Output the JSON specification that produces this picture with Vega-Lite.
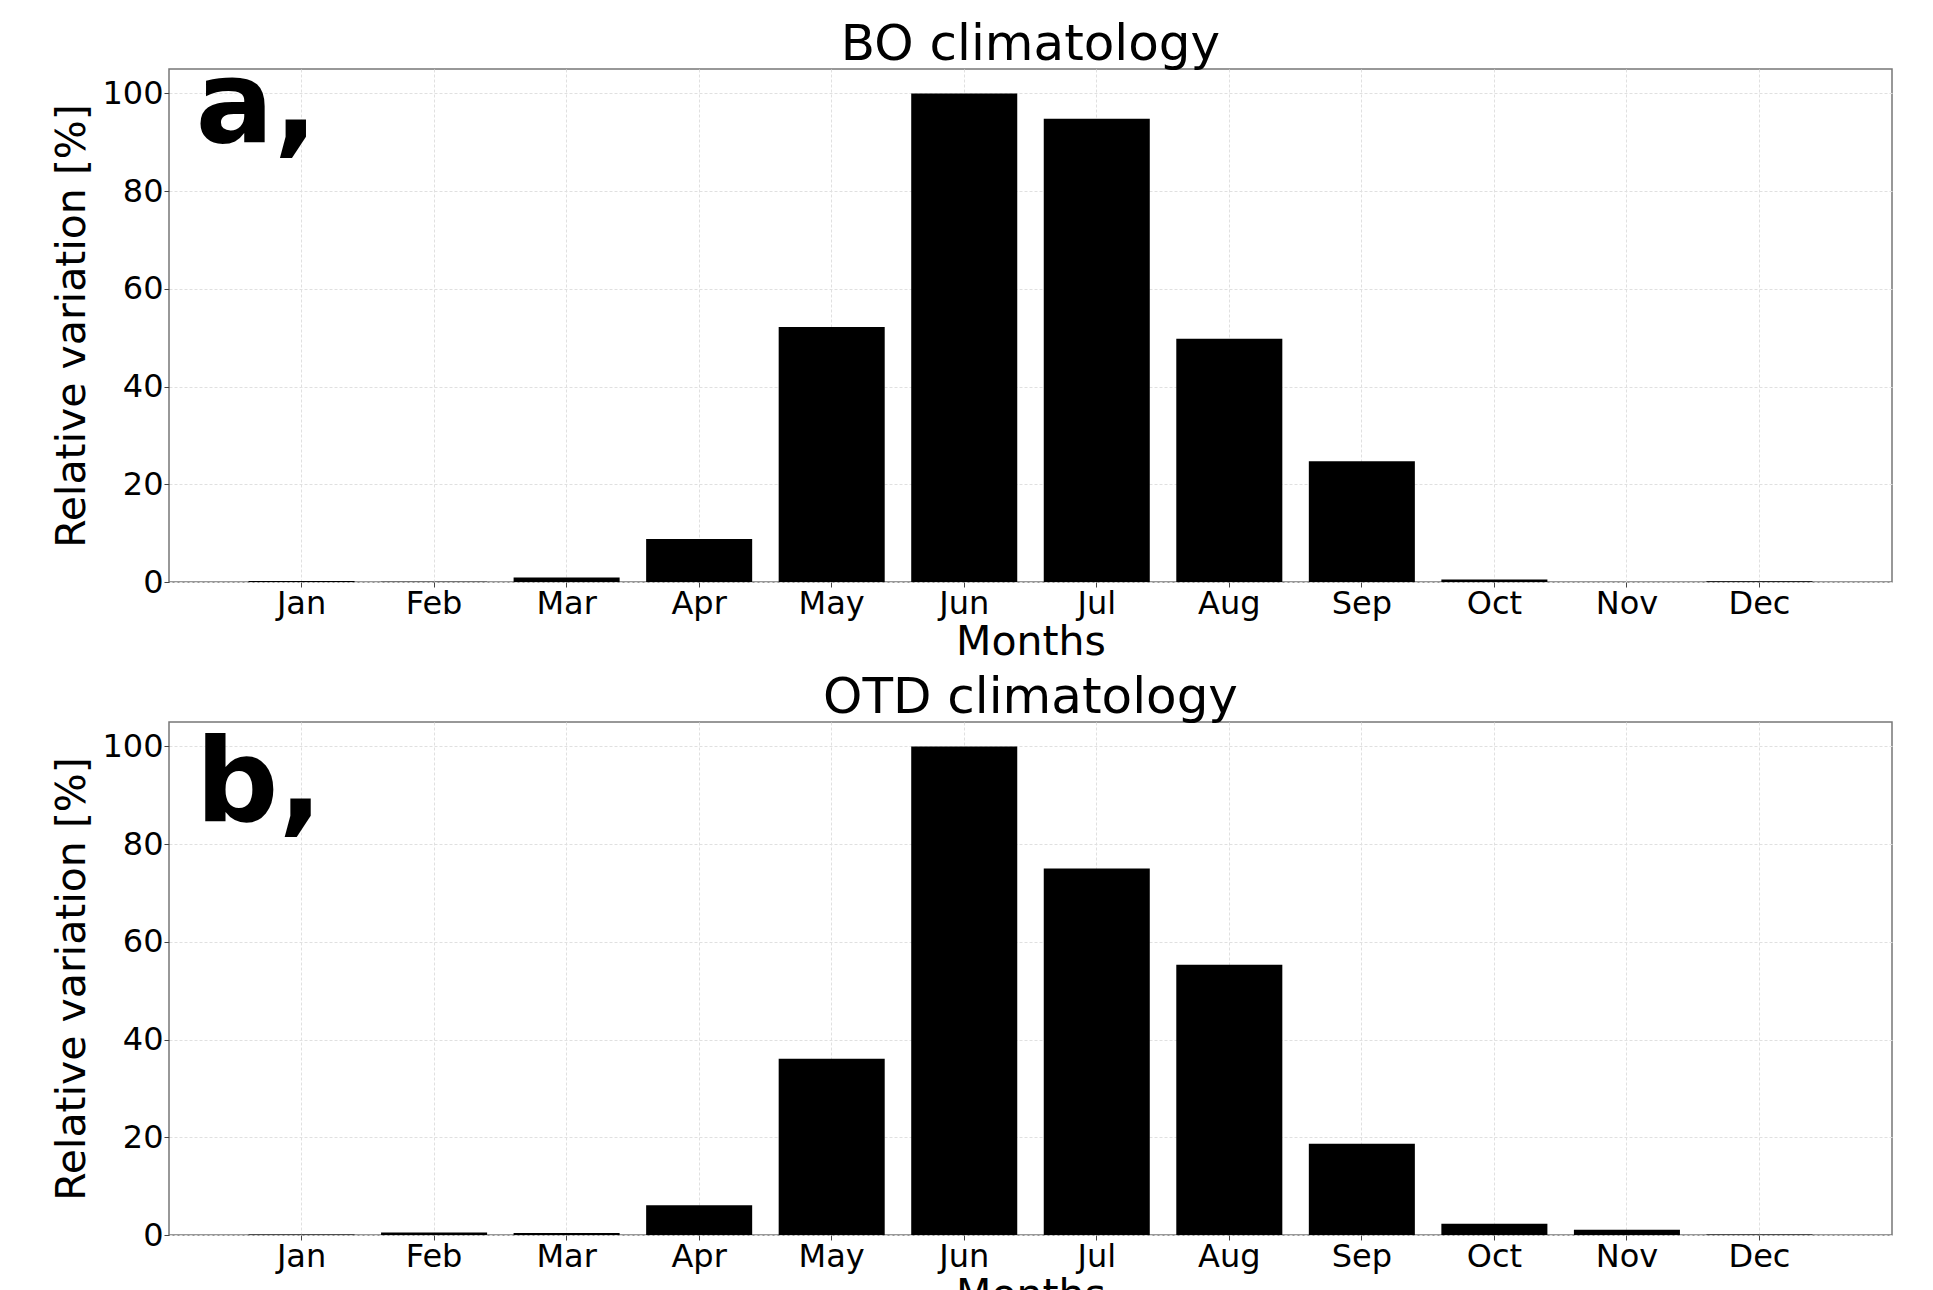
{
  "$schema": "https://vega.github.io/schema/vega-lite/v6.json",
  "padding": {"left": 51, "top": 19, "right": 0, "bottom": 0},
  "background": "white",
  "config": {
    "font": "DejaVu Sans",
    "view": {"stroke": "#777777", "strokeWidth": 1.5},
    "axis": {
      "labelFontSize": 32,
      "titleFontSize": 41,
      "titleFontWeight": "normal",
      "labelColor": "black",
      "titleColor": "black",
      "gridColor": "#e0e0e0",
      "gridDash": [3, 2],
      "gridWidth": 1,
      "tickColor": "#444444",
      "tickSize": 5,
      "domain": false,
      "labelPadding": 1
    },
    "title": {"fontSize": 50, "fontWeight": "normal", "color": "black"},
    "concat": {"spacing": 140}
  },
  "datasets": {
    "bo": [
      {"month": "Jan", "value": 0.2},
      {"month": "Feb", "value": 0.05},
      {"month": "Mar", "value": 0.9},
      {"month": "Apr", "value": 8.8},
      {"month": "May", "value": 52.2},
      {"month": "Jun", "value": 100},
      {"month": "Jul", "value": 94.8},
      {"month": "Aug", "value": 49.8},
      {"month": "Sep", "value": 24.7},
      {"month": "Oct", "value": 0.5},
      {"month": "Nov", "value": 0.0},
      {"month": "Dec", "value": 0.15}
    ],
    "otd": [
      {"month": "Jan", "value": 0.1},
      {"month": "Feb", "value": 0.5},
      {"month": "Mar", "value": 0.4},
      {"month": "Apr", "value": 6.1},
      {"month": "May", "value": 36.1},
      {"month": "Jun", "value": 100},
      {"month": "Jul", "value": 75.0},
      {"month": "Aug", "value": 55.3},
      {"month": "Sep", "value": 18.7},
      {"month": "Oct", "value": 2.3},
      {"month": "Nov", "value": 1.1},
      {"month": "Dec", "value": 0.1}
    ]
  },
  "bounds": "flush",
  "vconcat": [
    {
      "width": 1723,
      "height": 513,
      "title": {"text": "BO climatology", "offset": -21},
      "layer": [
        {
          "data": {"name": "bo"},
          "mark": {"type": "bar", "color": "black"},
          "encoding": {
            "x": {"field": "month", "type": "ordinal", "sort": null,
              "scale": {"paddingInner": 0.2, "paddingOuter": 0.6},
              "axis": {"title": "Months", "labelAngle": 0, "grid": true, "tickBand": "center", "titlePadding": 3}},
            "y": {"field": "value", "type": "quantitative",
              "scale": {"domain": [0, 105], "nice": false},
              "axis": {"title": "Relative variation [%]", "values": [0, 20, 40, 60, 80, 100], "titlePadding": 8}}
          }
        },
        {
          "data": {"values": [{}]},
          "mark": {"type": "text", "text": "a,", "fontSize": 116, "fontWeight": "bold", "align": "left", "baseline": "alphabetic", "dx": -106, "color": "black"},
          "encoding": {"x": {"datum": "Jan"}, "y": {"datum": 90}}
        }
      ]
    },
    {
      "width": 1723,
      "height": 513,
      "title": {"text": "OTD climatology", "offset": -1},
      "layer": [
        {
          "data": {"name": "otd"},
          "mark": {"type": "bar", "color": "black"},
          "encoding": {
            "x": {"field": "month", "type": "ordinal", "sort": null,
              "scale": {"paddingInner": 0.2, "paddingOuter": 0.6},
              "axis": {"title": "Months", "labelAngle": 0, "grid": true, "tickBand": "center", "titlePadding": 3}},
            "y": {"field": "value", "type": "quantitative",
              "scale": {"domain": [0, 105], "nice": false},
              "axis": {"title": "Relative variation [%]", "values": [0, 20, 40, 60, 80, 100], "titlePadding": 8}}
          }
        },
        {
          "data": {"values": [{}]},
          "mark": {"type": "text", "text": "b,", "fontSize": 116, "fontWeight": "bold", "align": "left", "baseline": "alphabetic", "dx": -106, "color": "black"},
          "encoding": {"x": {"datum": "Jan"}, "y": {"datum": 84.7}}
        }
      ]
    }
  ]
}
